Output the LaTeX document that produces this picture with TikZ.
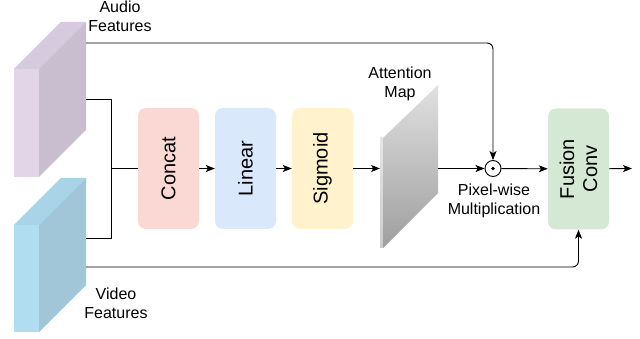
\documentclass[tikz,border=0pt]{standalone}
\usepackage{fontspec}
\setmainfont{Liberation Sans}
\usetikzlibrary{arrows.meta}
\definecolor{audioFront}{HTML}{E1D5E7}
\definecolor{audioTop}{HTML}{D6CADE}
\definecolor{audioSide}{HTML}{C9BDD0}
\definecolor{videoFront}{HTML}{B1DDF0}
\definecolor{videoTop}{HTML}{A9D3E6}
\definecolor{videoSide}{HTML}{A0C6D7}
\definecolor{concatFill}{HTML}{FAD9D5}
\definecolor{linearFill}{HTML}{DAE8FC}
\definecolor{sigmoidFill}{HTML}{FFF2CC}
\definecolor{fusionFill}{HTML}{D5E8D4}
\tikzset{
  stage/.style={rectangle, rounded corners=8pt, draw=none,
    minimum width=61pt, minimum height=121pt, inner sep=0pt},
  stagetext/.style={rotate=90, font=\fontsize{20}{23}\selectfont, align=center},
  caption/.style={font=\fontsize{16}{19}\selectfont, align=center},
  conn/.style={line width=0.9pt, black},
  arrowconn/.style={conn, -{Stealth[length=9pt,width=7pt,inset=2.2pt]}},
}
\begin{document}
\begin{tikzpicture}[x=1pt,y=-1pt]
\useasboundingbox (0,0) rectangle (640,339);

% audio feature block
\fill[audioFront] (14,69) rectangle (39,177);
\fill[audioTop] (14,69) -- (61,22) -- (86,22) -- (39,69) -- cycle;
\fill[audioSide] (39,69) -- (86,22) -- (86,130) -- (39,177) -- cycle;
% video feature block
\fill[videoFront] (14,225) rectangle (39,332);
\fill[videoTop] (14,225) -- (61,178) -- (86,178) -- (39,225) -- cycle;
\fill[videoSide] (39,225) -- (86,178) -- (86,285) -- (39,332) -- cycle;

\coordinate (audioSkip) at (86,43);
\coordinate (audioOut) at (86,99);
\coordinate (videoOut) at (86,238);
\coordinate (videoSkip) at (86,267);

\node[caption] (audioLbl) at (120,16) {Audio\\Features};
\node[caption] (videoLbl) at (116,303) {Video\\Features};

% processing stages
\node[stage, fill=concatFill] (concat) at (168.5,168.5) {};
\node[stagetext] (concatT) at (concat) {Concat};
\node[stage, fill=linearFill] (linear) at (245.5,168.5) {};
\node[stagetext] (linearT) at (linear) {Linear};
\node[stage, fill=sigmoidFill] (sigmoid) at (322.5,168.5) {};
\node[stagetext] (sigmoidT) at (sigmoid) {Sigmoid};

% attention map slab with vertical gradient
\shade[top color=white!90!black, bottom color=white!80!black]
  (380,138) rectangle (383,248);
\shade[top color=white!88!black, bottom color=white!62!black]
  (383,138) -- (438,85) -- (438,193) -- (383,248) -- cycle;
\coordinate (attnIn) at (380,168.5);
\coordinate (attnOut) at (438,168.5);
\node[caption] (attnLbl) at (400,84) {Attention\\Map};

% pixel-wise multiplication
\node[circle, draw, line width=0.9pt, minimum size=16pt, inner sep=0pt] (dot) at (493,168.5) {};
\fill (dot) circle (1.8pt);
\node[caption] (dotLbl) at (494,201) {Pixel-wise\\Multiplication};

\node[stage, fill=fusionFill] (fusion) at (578.5,169) {};
\node[stagetext] (fusionT) at (fusion) {Fusion\\Conv};
\coordinate (outEnd) at (632,168.5);

% connectors
\draw[conn] (audioOut) -- (111,99) |- (concat);
\draw[conn] (videoOut) -- (111,238) |- (concat);
\draw[arrowconn] (concat) -- (linear);
\draw[arrowconn] (linear) -- (sigmoid);
\draw[arrowconn] (sigmoid) -- (attnIn);
\draw[arrowconn] (attnOut) -- (dot);
\draw[arrowconn] (dot) -- (fusion);
\draw[arrowconn] (fusion) -- (outEnd);
\draw[arrowconn, rounded corners=6pt] (audioSkip) -| (dot);
\draw[arrowconn, rounded corners=6pt] (videoSkip) -| (fusion);
\end{tikzpicture}
\end{document}
